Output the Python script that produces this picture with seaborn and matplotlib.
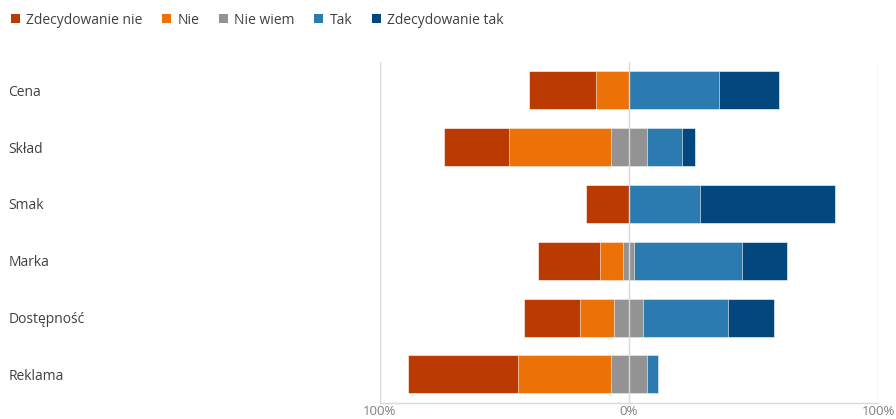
import numpy as np
import pandas as pd
import matplotlib
matplotlib.use("Agg")
import matplotlib.pyplot as plt
from matplotlib.patches import Patch
from matplotlib.ticker import FuncFormatter
import seaborn as sns

# survey answers, percent of respondents
categories = ["Cena", "Skład", "Smak", "Marka", "Dostępność", "Reklama"]
zdecydowanie_nie = [26.6, 26.1, 17.3, 24.9, 22.7, 44.2]
nie = [13.3, 40.6, 0.0, 9.2, 13.7, 37.3]
nie_wiem = [0.0, 14.6, 0.0, 4.5, 11.5, 14.2]
tak = [36.0, 14.2, 28.7, 43.1, 34.1, 4.6]
zdecydowanie_tak = [24.2, 4.9, 53.9, 18.3, 18.2, 0.0]

series_names = ["Zdecydowanie nie", "Nie", "Nie wiem", "Tak", "Zdecydowanie tak"]
colors = ["#BB3A02", "#EC7107", "#939393", "#2C7BB0", "#03477F"]

df = pd.DataFrame({
    "cat": categories,
    "zn": zdecydowanie_nie,
    "n": nie,
    "nw": nie_wiem,
    "t": tak,
    "zt": zdecydowanie_tak,
})
half = df["nw"] / 2
# cumulative ends of each segment, measured from the 0 line
df["left_zn"] = -(half + df["n"] + df["zn"])
df["left_n"] = -(half + df["n"])
df["left_nw"] = -half
df["right_nw"] = half
df["right_t"] = half + df["t"]
df["right_zt"] = half + df["t"] + df["zt"]

sns.set_theme(style="white")
plt.rcParams["font.family"] = ["Open Sans", "DejaVu Sans"]

fig = plt.figure(figsize=(8.96, 4.19), dpi=100)
ax = fig.add_axes([379.5 / 896, 1 - 402.7 / 419, 498.6 / 896, (402.7 - 62) / 419])

layers = [
    ("left_zn", colors[0]), ("left_n", colors[1]), ("left_nw", colors[2]),
    ("right_zt", colors[4]), ("right_t", colors[3]), ("right_nw", colors[2]),
]
for col, c in layers:
    sns.barplot(data=df, x=col, y="cat", order=categories, orient="h",
                color=c, saturation=1, width=0.67, ax=ax,
                edgecolor="white", linewidth=0.4, errorbar=None)

ax.set_xlim(-100, 100)
ax.set_ylim(5.5, -0.5)
ax.set_xticks([-100, 0, 100])
ax.xaxis.set_major_formatter(FuncFormatter(lambda v, p: f"{abs(v):.0f}%"))
ax.tick_params(axis="x", length=0, labelsize=9.5, labelcolor="#7f7f7f", pad=2)
for v in [-100, 0, 100]:
    ax.axvline(v, color="#d9d9d9", lw=1, zorder=5)

ax.set_xlabel("")
ax.set_ylabel("")
# labels sit at the far left of the figure (pad in points: 371 px at 100 dpi)
ax.tick_params(axis="y", length=0, labelsize=10, labelcolor="#404040", pad=371 * 0.72)
for lbl in ax.get_yticklabels():
    lbl.set_ha("left")

for s in ["top", "left", "right"]:
    ax.spines[s].set_visible(False)
ax.spines["bottom"].set_color("#d9d9d9")
ax.spines["bottom"].set_linewidth(1)

handles = [Patch(facecolor=c, edgecolor="none", label=n) for n, c in zip(series_names, colors)]
fig.legend(handles=handles, loc="upper left", bbox_to_anchor=(-0.002, 1.0), ncol=5,
           frameon=False, fontsize=10, handlelength=0.65, handleheight=0.65,
           handletextpad=0.45, columnspacing=1.42, labelcolor="#404040")

fig.savefig("out.png", dpi=100)
